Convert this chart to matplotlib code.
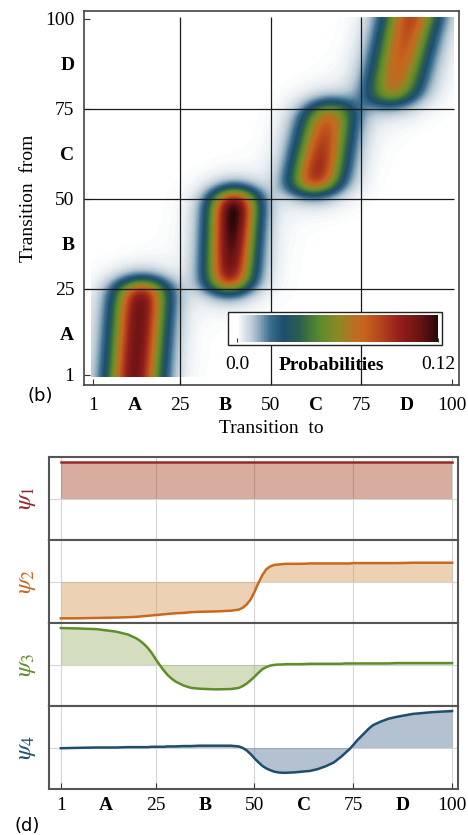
import numpy as np
import matplotlib
matplotlib.use("Agg")
import matplotlib.pyplot as plt
from matplotlib.colors import LinearSegmentedColormap
from matplotlib.patches import Rectangle

plt.rcParams['font.family'] = ['Liberation Serif', 'DejaVu Serif']
plt.rcParams['mathtext.fontset'] = 'stix'

# axis ticks: state numbers and the four metastable sets
num_ticks = [1, 25, 50, 75, 100]
num_labels = ['1', '25', '50', '75', '100']
set_ticks = [12.5, 37.5, 62.5, 87.5]
set_labels = ['A', 'B', 'C', 'D']

# transition matrix, one band per metastable set (rows = from, cols = to)
band_from = [-10, 25, 52.5, 77]        # first row of the band
band_to = [26.5, 51.5, 76, 120]        # last row of the band
band_col_from = [12.5, 38.5, 62.0, 83.0]  # centre column at first row
band_col_to = [14.5, 40.0, 66.5, 88.5]    # centre column at last row
band_width = [5.0, 4.5, 5.0, 5.2]
band_peak_from = [0.102, 0.095, 0.096, 0.064]
band_peak_to = [0.104, 0.124, 0.070, 0.080]
haze_peak = 0.005
haze_width = 9.0

# dominant eigenvectors
states = [1, 5, 10, 15, 18, 20, 21, 22, 23, 24, 25, 26, 27, 28, 29, 30, 32, 34, 36,
          40, 44, 46, 47, 48, 49, 50, 51, 52, 53, 54, 55, 56, 57, 58, 60, 62, 64, 66,
          68, 70, 72, 73, 74, 75, 76, 77, 78, 79, 80, 82, 84, 86, 90, 95, 100]
psi_1 = [0.100] * len(states)
psi_2 = [-0.102, -0.102, -0.101, -0.100, -0.099, -0.098, -0.097, -0.096, -0.095,
         -0.094, -0.093, -0.092, -0.091, -0.090, -0.089, -0.088, -0.087, -0.085,
         -0.084, -0.083, -0.081, -0.078, -0.073, -0.064, -0.050, -0.029, -0.004,
         0.018, 0.034, 0.042, 0.046, 0.047, 0.048, 0.049, 0.049, 0.049, 0.050,
         0.050, 0.050, 0.050, 0.050, 0.050, 0.050, 0.051, 0.051, 0.051, 0.051,
         0.051, 0.051, 0.051, 0.051, 0.051, 0.052, 0.052, 0.052]
psi_3 = [0.101, 0.100, 0.098, 0.091, 0.083, 0.073, 0.066, 0.057, 0.046, 0.032,
         0.015, -0.001, -0.016, -0.029, -0.039, -0.047, -0.058, -0.065, -0.067,
         -0.069, -0.068, -0.065, -0.060, -0.053, -0.044, -0.034, -0.023, -0.013,
         -0.007, -0.003, -0.001, 0.000, 0.000, 0.001, 0.001, 0.001, 0.002, 0.002,
         0.002, 0.002, 0.002, 0.003, 0.003, 0.003, 0.003, 0.003, 0.003, 0.003,
         0.003, 0.003, 0.003, 0.004, 0.004, 0.004, 0.004]
psi_4 = [-0.002, -0.001, 0.000, 0.000, 0.001, 0.001, 0.001, 0.001, 0.001, 0.002,
         0.002, 0.002, 0.002, 0.003, 0.003, 0.003, 0.004, 0.004, 0.005, 0.005,
         0.005, 0.003, -0.001, -0.008, -0.018, -0.030, -0.041, -0.051, -0.058,
         -0.063, -0.067, -0.069, -0.070, -0.070, -0.069, -0.067, -0.065, -0.060,
         -0.052, -0.042, -0.025, -0.015, -0.005, 0.007, 0.020, 0.031, 0.042,
         0.053, 0.062, 0.072, 0.080, 0.085, 0.093, 0.098, 0.101]
psi_series = [psi_1, psi_2, psi_3, psi_4]
psi_names = [r'$\psi_1$', r'$\psi_2$', r'$\psi_3$', r'$\psi_4$']
psi_line = ['#962a2a', '#c8691f', '#5e8e2a', '#1d4e6e']
psi_fill = ['#9d3212', '#d48e48', '#96aa61', '#43648e']

cmap = LinearSegmentedColormap.from_list('prob', [
    (0.00, '#ffffff'), (0.08, '#b4c6d2'), (0.165, '#3a6d8e'), (0.23, '#1d4e6f'),
    (0.31, '#2b5e4e'), (0.41, '#5a8a2c'), (0.50, '#8a8a26'), (0.58, '#b87022'),
    (0.63, '#c8661e'), (0.71, '#b5461c'), (0.81, '#951e1a'), (0.91, '#6a1414'),
    (1.00, '#2a0707')])


def sigmoid(z):
    return 1.0 / (1.0 + np.exp(-z))


rows = np.arange(1, 101)[:, None]
cols = np.arange(1, 101)[None, :]
P = np.zeros((100, 100))
for k in range(4):
    r0, r1 = max(band_from[k], 1), min(band_to[k], 100)
    t = np.clip((rows - r0) / (r1 - r0), 0, 1)
    centre = band_col_from[k] + t * (band_col_to[k] - band_col_from[k])
    peak = band_peak_from[k] + t * (band_peak_to[k] - band_peak_from[k])
    fade = sigmoid((rows - band_from[k]) / 1.5) * sigmoid((band_to[k] - rows) / 1.5)
    P += peak * fade * np.exp(-0.5 * ((cols - centre) / band_width[k]) ** 2)
    soft = sigmoid((rows - band_from[k] + 3) / 3) * sigmoid((band_to[k] + 3 - rows) / 3)
    P += haze_peak * soft * np.exp(-0.5 * ((cols - centre) / haze_width) ** 2)

fig = plt.figure(figsize=(4.68, 8.35), dpi=100)

# ---- transition matrix ----
ax = fig.add_axes([84 / 468, 1 - 385 / 835, 375 / 468, 374 / 835])
im = ax.imshow(P, origin='lower', extent=(0.5, 100.5, 0.5, 100.5), cmap=cmap,
               vmin=0, vmax=0.12, interpolation='bilinear', aspect='auto')
ax.set_xlim(-1.5, 102)
ax.set_ylim(-1.8, 102.2)
ax.vlines([25, 50, 75], -1.8, 100.5, color='#1a1a1a', lw=0.9, zorder=3)
ax.hlines([25, 50, 75], -1.5, 100.5, color='#1a1a1a', lw=0.9, zorder=3)
for a in (ax.xaxis, ax.yaxis):
    a.set_ticks(num_ticks)
    a.set_ticklabels(num_labels)
    a.set_ticks(set_ticks, minor=True)
    a.set_ticklabels(set_labels, minor=True, fontweight='bold')
ax.tick_params(which='both', labelsize=14, direction='in')
ax.tick_params(which='major', length=4, width=0.8, color='#333333')
ax.tick_params(which='minor', length=0)
ax.tick_params(axis='x', which='both', pad=9)
ax.tick_params(axis='y', which='both', pad=7)
for s in ax.spines.values():
    s.set_color('#444444')
    s.set_linewidth(1.2)
ax.set_xlabel('Transition  to', fontsize=14, labelpad=4)
ax.set_ylabel('Transition  from', fontsize=14, labelpad=6)

box = Rectangle((228 / 468, 1 - 345 / 835), 214 / 468, 33 / 835, transform=fig.transFigure,
                facecolor='white', edgecolor='#222222', lw=1.0, zorder=5, clip_on=False)
ax.add_patch(box)
cax = fig.add_axes([237 / 468, 1 - 342 / 835, 201 / 468, 27 / 835])
cb = fig.colorbar(im, cax=cax, orientation='horizontal', ticks=[0, 0.12])
cb.outline.set_visible(False)
cax.set_xticklabels(['0.0', '0.12'])
cax.tick_params(labelsize=14, direction='in', length=3, pad=10, color='#333333')
fig.text(331 / 468, 1 - 365 / 835, 'Probabilities', ha='center', va='center',
         fontsize=14, fontweight='bold')
fig.text(40 / 468, 1 - 396 / 835, '(b)', ha='center', va='center', fontsize=13,
         family='DejaVu Sans')

# ---- eigenvectors ----
h = 83 / 835
for k in range(4):
    a = fig.add_axes([49 / 468, 1 - (457 + 83 * (k + 1)) / 835, 409 / 468, h])
    a.vlines(num_ticks, -0.2, 0.2, color='#d4d4d4', lw=0.8, zorder=0)
    a.axhline(0, color='#d4d4d4', lw=0.8, zorder=0)
    a.fill_between(states, psi_series[k], 0, color=psi_fill[k], alpha=0.4, lw=0, zorder=1)
    a.plot(states, psi_series[k], color=psi_line[k], lw=1.8, zorder=2)
    a.set_xlim(-2, 101.5)
    a.set_ylim(-0.115, 0.115)
    a.set_yticks([])
    for s in a.spines.values():
        s.set_color('#555555')
        s.set_linewidth(1.5)
    fig.text(27 / 468, 1 - (457 + 83 * k + 41.5) / 835, psi_names[k], rotation=90,
             ha='center', va='center', fontsize=18, color=psi_line[k])
    a.set_xticks(num_ticks)
    a.set_xticks(set_ticks, minor=True)
    if k < 3:
        a.tick_params(which='both', bottom=False, labelbottom=False)
    else:
        a.set_xticklabels(num_labels)
        a.set_xticklabels(set_labels, minor=True, fontweight='bold')
        a.tick_params(which='both', labelsize=14, direction='in', pad=6)
        a.tick_params(which='major', length=4, color='#333333')
        a.tick_params(which='minor', length=0)

fig.text(27 / 468, 1 - 826 / 835, '(d)', ha='center', va='center', fontsize=13,
         family='DejaVu Sans')

fig.savefig('out.png', dpi=100)
